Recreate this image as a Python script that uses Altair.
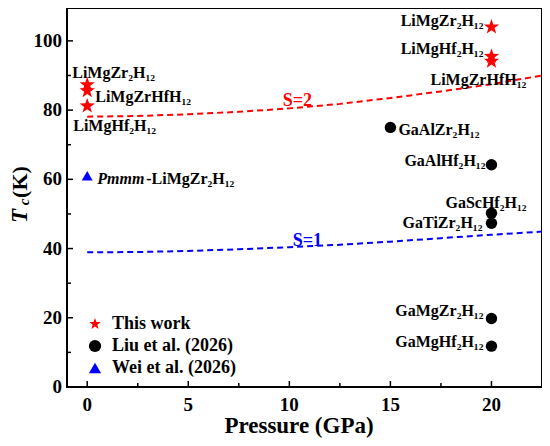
import altair as alt
import pandas as pd

# ---------------- data ----------------
star_names = ["LiMgZr₂H₁₂", "LiMgZrHfH₁₂", "LiMgHf₂H₁₂", "LiMgZr₂H₁₂", "LiMgHf₂H₁₂", "LiMgZrHfH₁₂"]
star_p = [0, 0, 0, 20, 20, 20]
star_tc = [87.3, 85.6, 81.2, 104.0, 95.5, 94.1]

liu_names = ["GaAlZr₂H₁₂", "GaAlHf₂H₁₂", "GaScHf₂H₁₂", "GaTiZr₂H₁₂", "GaMgZr₂H₁₂", "GaMgHf₂H₁₂"]
liu_p = [15, 20, 20, 20, 20, 20]
liu_tc = [75.0, 64.2, 50.2, 47.3, 19.8, 11.8]

wei_phase = ["Pmmm"]
wei_names = ["-LiMgZr₂H₁₂"]
wei_p = [0]
wei_tc = [61.0]

curve_p = [0, 2.5, 5, 7.5, 10, 12.5, 15, 17.5, 20, 22.5]
s2_tc = [78.1, 78.3, 78.8, 79.5, 80.5, 81.8, 83.5, 85.4, 87.5, 90.0]
s1_tc = [38.9, 39.0, 39.3, 39.8, 40.4, 41.1, 42.0, 43.0, 44.0, 44.9]
s_names = ["S=2", "S=1"]

groups = ["This work", "Liu et al. (2026)", "Wei et al. (2026)"]
x_major = [0, 5, 10, 15, 20]
x_minor = [2.5, 7.5, 12.5, 17.5]
y_major = [0, 20, 40, 60, 80, 100]
y_minor = [10, 30, 50, 70, 90]
x_title = "Pressure (GPa)"

# ---------------- styles ----------------
SERIF = "Liberation Serif"
W, H = 475, 379
xs = alt.Scale(domain=[-1, 22.5], nice=False, zero=False)
ys = alt.Scale(domain=[0, 109.5], nice=False, zero=False)

star_style = [(-15, -12, "left"), (8, 6, "left"), (-14, 20, "left"),
              (-8, -6, "right"), (-8, -7, "right"), (-61, 19, "left")]
liu_style = [(8, 3, "left"), (-6, -4, "right"), (-46, -10, "left"),
             (-9, 0, "right"), (-8, -7, "right"), (-8, -4, "right")]
STAR = ("M0,-1L0.235,-0.324L0.951,-0.309L0.38,0.124L0.588,0.809L0,0.4"
        "L-0.588,0.809L-0.38,0.124L-0.951,-0.309L-0.235,-0.324Z")
shapes = [STAR, "circle", "triangle-up"]
colors = ["#ff0000", "#000000", "#0000ff"]
sizes = [260, 130, 120]


def X(field):
    return alt.X(field, type="quantitative", scale=xs, axis=None)


def Y(field):
    return alt.Y(field, type="quantitative", scale=ys, axis=None)


def label(name, p, tc, dx, dy, align, italic=False, color="black", size=16):
    df = pd.DataFrame({"P": [p], "Tc": [tc], "t": [name]})
    return alt.Chart(df).mark_text(
        dx=dx, dy=dy, align=align, baseline="middle", font=SERIF,
        fontWeight="bold", fontSize=size, color=color,
        fontStyle="italic" if italic else "normal",
    ).encode(x=X("P"), y=Y("Tc"), text="t:N")


curves = pd.DataFrame({"P": curve_p, "S2": s2_tc, "S1": s1_tc})
line2 = alt.Chart(curves).mark_line(color="#ff0000", strokeDash=[6, 4], strokeWidth=2).encode(
    x=X("P"), y=Y("S2"))
line1 = alt.Chart(curves).mark_line(color="#0000ff", strokeDash=[6, 4], strokeWidth=2).encode(
    x=X("P"), y=Y("S1"))


# inward ticks and tick labels, driven by the tick arrays through the scales
def xticks(vals, length):
    df = pd.DataFrame({"v": vals})
    return alt.Chart(df).mark_rule(color="black", strokeWidth=1.5).encode(
        x=X("v"), y=alt.value(H), y2=alt.value(H - length))


def yticks(vals, length):
    df = pd.DataFrame({"v": vals})
    return alt.Chart(df).mark_rule(color="black", strokeWidth=1.5).encode(
        y=Y("v"), x=alt.value(0), x2=alt.value(length))


def xlabels(vals):
    df = pd.DataFrame({"v": vals, "t": [str(v) for v in vals]})
    return alt.Chart(df).mark_text(font=SERIF, fontWeight="bold", fontSize=19, color="black",
                                   align="center", baseline="middle").encode(
        x=X("v"), y=alt.value(H + 18), text="t:N")


def ylabels(vals):
    df = pd.DataFrame({"v": vals, "t": [str(v) for v in vals]})
    return alt.Chart(df).mark_text(font=SERIF, fontWeight="bold", fontSize=19, color="black",
                                   align="right", baseline="middle").encode(
        y=Y("v"), x=alt.value(-5), text="t:N")


layers = [line2, line1,
          xticks(x_major, 6), xticks(x_minor, 4), yticks(y_major, 6), yticks(y_minor, 4),
          xlabels(x_major), ylabels(y_major)]

for i, (n, p, t) in enumerate(zip(star_names, star_p, star_tc)):
    dx, dy, al = star_style[i]
    layers.append(label(n, p, t, dx, dy, al))
for i, (n, p, t) in enumerate(zip(liu_names, liu_p, liu_tc)):
    dx, dy, al = liu_style[i]
    layers.append(label(n, p, t, dx, dy, al))

layers.append(label(wei_phase[0], wei_p[0], wei_tc[0], 10, 3, "left", italic=True))
layers.append(label(wei_names[0], wei_p[0], wei_tc[0], 59, 3, "left"))

layers.append(label(s_names[0], curve_p[4], s2_tc[4], 8, -7, "center", color="#ff0000", size=18))
layers.append(label(s_names[1], curve_p[4], s1_tc[4], 18, -6, "center", color="#0000ff", size=18))


def title_text(txt, px, py, size, italic, angle=0):
    df = pd.DataFrame({"t": [txt]})
    return alt.Chart(df).mark_text(
        angle=angle, align="center", baseline="middle", font=SERIF, fontWeight="bold",
        fontSize=size, fontStyle="italic" if italic else "normal", color="black",
    ).encode(x=alt.value(px), y=alt.value(py), text="t:N")


layers.append(title_text(x_title, 232, H + 39, 23, False))
layers.append(title_text("T", -47, 208, 23, True, 270))
layers.append(title_text("c", -43, 194, 15, True, 270))
layers.append(title_text("(K)", -47, 174, 22, False, 270))

# scatter points, one layer per source, sharing a legend
for g, ps, ts, sz in [(groups[0], star_p, star_tc, sizes[0]),
                      (groups[1], liu_p, liu_tc, sizes[1]),
                      (groups[2], wei_p, wei_tc, sizes[2])]:
    df = pd.DataFrame({"P": ps, "Tc": ts, "g": [g] * len(ps)})
    layers.append(alt.Chart(df).mark_point(filled=True, opacity=1, size=sz).encode(
        x=X("P"), y=Y("Tc"),
        shape=alt.Shape("g:N", scale=alt.Scale(domain=groups, range=shapes), title=None),
        color=alt.Color("g:N", scale=alt.Scale(domain=groups, range=colors), title=None),
    ))

chart = alt.layer(*layers).properties(
    width=W, height=H,
    padding={"left": 59, "top": 0, "right": 0, "bottom": 51},
    autosize=alt.AutoSizeParams(type="none"),
).configure_view(stroke="black", strokeWidth=2).configure_legend(
    orient="none", legendX=19, legendY=307, padding=0, labelFont=SERIF,
    labelFontWeight="bold", labelFontSize=18, labelColor="black", symbolSize=150,
    labelOffset=8, rowPadding=4,
)

chart.save("out.html", embed_options={"renderer": "svg", "actions": False})
